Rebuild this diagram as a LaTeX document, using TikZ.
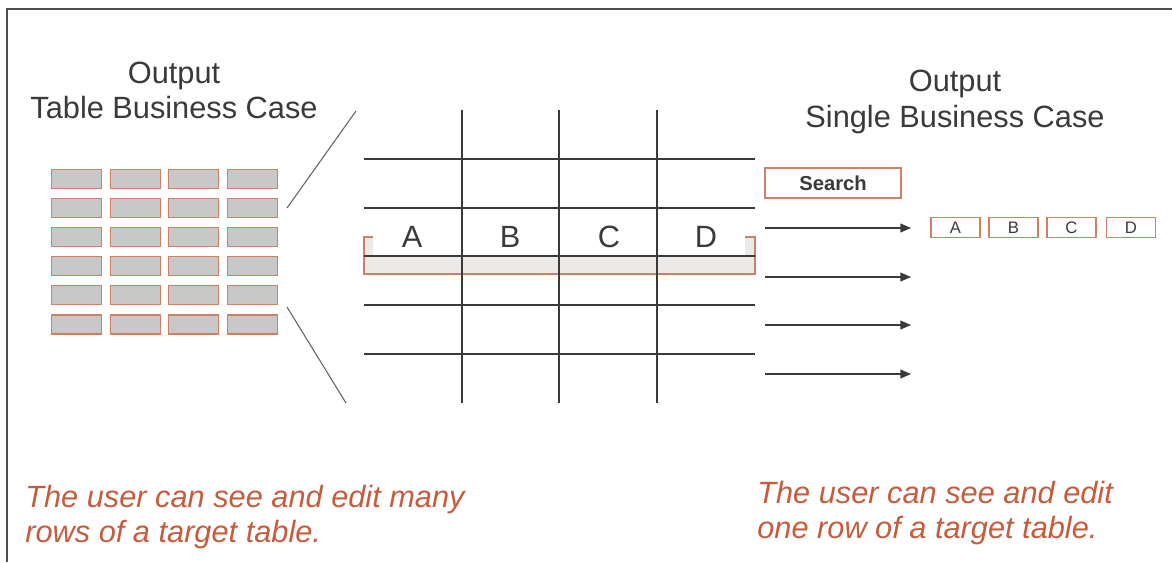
\documentclass[tikz,border=0pt]{standalone}
\usepackage{fontspec}
\setmainfont{Liberation Sans}
\usetikzlibrary{arrows.meta, positioning}

\definecolor{rust}{RGB}{196,92,62}
\definecolor{cellline}{RGB}{204,128,100}
\definecolor{cellgray}{RGB}{200,200,200}
\definecolor{rowgray}{RGB}{236,234,232}
\definecolor{ink}{RGB}{58,58,58}

\begin{document}
\begin{tikzpicture}[x=0.02cm, y=-0.02cm,
  title/.style={font=\fontsize{17.5}{20}\selectfont, text=ink, align=center, inner sep=0pt},
  cell/.style={rectangle, draw=cellline, fill=cellgray, line width=0.6pt,
    minimum width=1cm, minimum height=0.38cm, inner sep=0pt},
  gridline/.style={ink, line width=0.6pt},
  zoomline/.style={ink!80, line width=0.6pt},
  letter/.style={font=\fontsize{17.5}{20}\selectfont, text=ink, inner sep=0pt},
  fieldbox/.style={rectangle, draw=cellline, line width=0.6pt, minimum width=0.98cm,
    minimum height=0.4cm, inner sep=0pt, font=\fontsize{9.5}{10}\selectfont, text=ink},
  searchbox/.style={rectangle, draw=cellline, line width=0.6pt, minimum width=2.72cm,
    minimum height=0.6cm, inner sep=0pt, font=\bfseries\fontsize{11.5}{13}\selectfont, text=ink},
  note/.style={font=\itshape\fontsize{17.5}{19.8}\selectfont, text=rust, align=left, inner sep=0pt},
  arr/.style={-{Triangle[length=6pt, width=5pt]}, ink, line width=0.7pt}
]
\useasboundingbox (0,0) rectangle (1172,562);
% === Frame (top and left edges only) ===
\draw[ink!90, line width=1.1pt] (7,562) -- (7,9) -- (1172,9);

% === Left side: the whole output table ===
\node[title] (ttable) at (174,90) {Output\\Table Business Case};
\foreach \i in {0,...,3}
  \foreach \j in {0,...,5}
    \node[cell] (c-\i-\j) at (76.5+58.7*\i, 179+29.1*\j) {};

% === Zoom lines into the grid ===
\coordinate (ztop) at (287,208);
\coordinate (ztopend) at (356,111);
\coordinate (zbot) at (287,307);
\coordinate (zbotend) at (346,403);
\draw[zoomline] (ztop) -- (ztopend);
\draw[zoomline] (zbot) -- (zbotend);

% === Selected row (drawn under the grid) ===
\fill[rowgray] (364,237) -- (373,237) -- (373,256) -- (745,256) -- (745,237)
  -- (755,237) -- (755,274) -- (364,274) -- cycle;
\draw[cellline, line width=0.6pt] (373,237) -- (364,237) -- (364,274) -- (755,274)
  -- (755,237) -- (745,237);

% === Grid ===
\foreach \x in {462,559,657}
  \draw[gridline] (\x,110) -- (\x,403);
\foreach \y in {159,208,256,305,354}
  \draw[gridline] (364,\y) -- (755,\y);
\node[letter, anchor=base] (colA) at (412,247) {A};
\node[letter, anchor=base] (colB) at (510,247) {B};
\node[letter, anchor=base] (colC) at (609,247) {C};
\node[letter, anchor=base] (colD) at (706,247) {D};

% === Right side: a single business case ===
\node[title] (tsingle) at (955,102) {Output\\Single Business Case};
\node[searchbox] (search) at (833,183) {Search};
\foreach \y [count=\k] in {228,277,325,374} {
  \coordinate (from\k) at (765,\y);
  \coordinate (to\k) at (911,\y);
  \draw[arr] (from\k) -- (to\k);
}
\node[fieldbox] (fA) at (955.5,227.5) {A};
\node[fieldbox] (fB) at (1013.5,227.5) {B};
\node[fieldbox] (fC) at (1071.5,227.5) {C};
\node[fieldbox] (fD) at (1131,227.5) {D};

% === Notes ===
\node[note, anchor=west] (nleft) at (25,517) {The user can see and edit many\\rows of a target table.};
\node[note, anchor=west] (nright) at (757,513) {The user can see and edit\\one row of a target table.};
\end{tikzpicture}
\end{document}
